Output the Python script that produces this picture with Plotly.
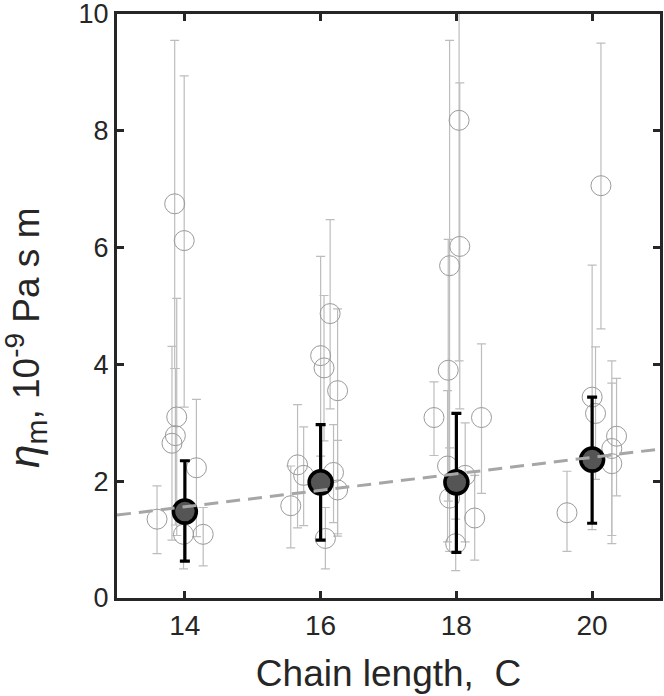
import plotly.graph_objects as go

# ---- individual measurements (gray open circles) ----
x14 = [13.59, 13.81, 13.85, 13.86, 13.88, 13.98, 13.99, 14.17, 14.27]
y14 = [1.35, 2.65, 6.75, 2.78, 3.10, 1.09, 6.12, 2.23, 1.09]
hi14 = [1.92, 4.31, 9.55, 3.93, 5.13, 1.50, 8.94, 3.40, 1.55]
lo14 = [0.76, 0.99, 3.93, 1.25, 1.07, 0.50, 3.27, 1.05, 0.55]

x16 = [15.56, 15.66, 15.75, 16.00, 16.05, 16.07, 16.14, 16.19, 16.25, 16.25]
y16 = [1.58, 2.28, 2.10, 4.15, 3.94, 1.02, 4.87, 2.15, 3.55, 1.85]
hi16 = [2.26, 3.31, 2.93, 5.85, 5.18, 1.55, 6.48, 2.97, 4.95, 2.70]
lo16 = [0.86, 1.20, 1.24, 2.43, 2.69, 0.50, 3.24, 1.29, 1.06, 1.10]

x18 = [17.67, 17.87, 17.88, 17.90, 17.90, 17.99, 18.04, 18.05, 18.13, 18.27, 18.37]
y18 = [3.09, 2.26, 3.90, 5.69, 1.71, 0.93, 8.18, 6.02, 2.10, 1.37, 3.09]
hi18 = [3.70, 3.55, 6.14, 9.55, 2.57, 1.35, 12.30, 8.82, 3.00, 2.10, 4.35]
lo18 = [2.44, 0.96, 1.66, 1.83, 0.80, 0.47, 4.06, 3.24, 0.96, 0.65, 1.79]

x20 = [19.63, 20.00, 20.05, 20.13, 20.29, 20.29, 20.36]
y20 = [1.46, 3.44, 3.16, 7.06, 2.56, 2.30, 2.77]
hi20 = [2.17, 5.70, 4.30, 9.50, 4.06, 3.68, 3.76]
lo20 = [0.80, 1.17, 2.03, 4.61, 0.93, 1.07, 1.75]

# ---- means (dark filled circles) ----
mean_x = [14, 16, 18, 20]
mean_y = [1.48, 1.98, 1.98, 2.37]
mean_hi = [2.35, 2.97, 3.16, 3.44]
mean_lo = [0.63, 0.99, 0.78, 1.28]

# ---- linear fit ----
fit_x = [13, 21]
fit_y = [1.42, 2.55]

x_ticks = [14, 16, 18, 20]
y_ticks = [0, 2, 4, 6, 8, 10]

pts_x = x14 + x16 + x18 + x20
pts_y = y14 + y16 + y18 + y20
pts_hi = hi14 + hi16 + hi18 + hi20
pts_lo = lo14 + lo16 + lo18 + lo20

FONT = "Liberation Sans, Arial, sans-serif"
INK = "#262626"

fig = go.Figure()

fig.add_trace(go.Scatter(
    x=pts_x, y=pts_y, mode="markers",
    marker=dict(symbol="circle-open", size=20, color="#9a9a9a", line=dict(width=1)),
    error_y=dict(type="data", symmetric=False,
                 array=[h - y for h, y in zip(pts_hi, pts_y)],
                 arrayminus=[y - l for l, y in zip(pts_lo, pts_y)],
                 color="#bdbdbd", thickness=1.2, width=4.5),
    showlegend=False, hoverinfo="skip"))

fig.add_trace(go.Scatter(
    x=mean_x, y=mean_y, mode="markers",
    marker=dict(symbol="circle", size=23, color="#555555", line=dict(color="black", width=3.5)),
    error_y=dict(type="data", symmetric=False,
                 array=[h - y for h, y in zip(mean_hi, mean_y)],
                 arrayminus=[y - l for l, y in zip(mean_lo, mean_y)],
                 color="black", thickness=3.2, width=5),
    showlegend=False, hoverinfo="skip"))

fig.add_trace(go.Scatter(
    x=fit_x, y=fit_y, mode="lines",
    line=dict(color="#a6a6a6", width=3, dash="14px,8px"),
    showlegend=False, hoverinfo="skip"))

axis_common = dict(showline=True, linecolor=INK, linewidth=3, mirror="ticks",
                   ticks="inside", ticklen=7, tickwidth=2.5, tickcolor=INK,
                   showgrid=False, zeroline=False, ticklabeloverflow="allow")

fig.update_xaxes(range=[13, 21], tickvals=x_ticks, ticktext=[str(v) for v in x_ticks],
                 tickfont=dict(family=FONT, size=28, color=INK),
                 title=dict(text="Chain length,\u00a0\u00a0C", standoff=21,
                            font=dict(family=FONT, size=37, color=INK)),
                 **axis_common)
fig.update_yaxes(range=[0, 10], tickvals=y_ticks, ticktext=[str(v) for v in y_ticks],
                 tickfont=dict(family=FONT, size=27, color=INK),
                 **axis_common)

fig.add_annotation(
    text=('<i><span style="font-size:42px">η</span></i>'
          '<sub><span style="font-size:30px">m</span></sub>, 10'
          '<sup><span style="font-size:28px">-9</span></sup> Pa s m'),
    textangle=-90, xref="paper", yref="paper", x=-0.168, y=0.445,
    xanchor="center", yanchor="middle", showarrow=False,
    font=dict(family=FONT, size=37, color=INK))

fig.update_layout(width=664, height=696, plot_bgcolor="white", paper_bgcolor="white",
                  margin=dict(l=117, r=4, t=14, b=98, autoexpand=False))

fig.write_html("out.html", config={"displayModeBar": False},
               post_script="document.body.style.margin='0';document.documentElement.style.overflow='hidden';")
